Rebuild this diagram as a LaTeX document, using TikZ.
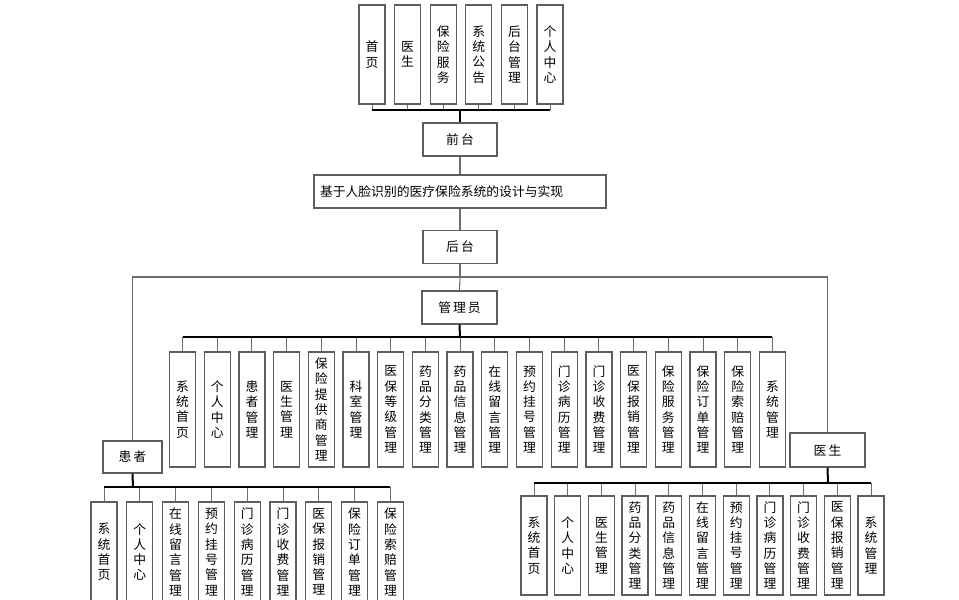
\documentclass[tikz,border=0pt]{standalone}
\usepackage{fontspec}
\newfontfamily\cjk{Noto Sans CJK SC}
\definecolor{boxgray}{HTML}{5E5E5E}
\definecolor{linegray}{HTML}{6E6E6E}
\tikzset{
  box/.style={draw=boxgray, line width=1.3pt, fill=white, inner sep=0pt, align=center,
    font=\cjk\fontsize{12.8}{15.3}\selectfont},
  vbox/.style={box, minimum width=26pt},
  hbox/.style={box, minimum width=74pt, minimum height=33pt},
  stub/.style={draw=linegray, line width=1pt},
  bus/.style={draw=black, line width=1.3pt},
  trunk/.style={draw=black, line width=2pt},
  link/.style={draw=linegray, line width=1.1pt}
}
\begin{document}
\begin{tikzpicture}[x=1pt,y=-1pt]
\useasboundingbox (0,0) rectangle (959,600);
\fill[white] (0,0) rectangle (959,600);

% top boxes
\foreach \t [count=\i] in {{首\\页},{医\\生},{保\\险\\服\\务},{系\\统\\公\\告},{后\\台\\管\\理},{个\\人\\中\\心}}{
  \node[vbox, minimum height=99pt] (t\i) at ({372+(\i-1)*35.6},54.5) {\t};
}
\coordinate (tb) at (460,110);
\foreach \i in {1,...,6}{ \draw[stub] (t\i.south) -- (t\i.south |- tb); }
\draw[bus] (t1.south |- tb) -- (t6.south |- tb);

\node[hbox] (qt) at (460,139.5) {前\hspace{2pt}台};
\draw[trunk] (tb) -- (qt.north);

\node[box, minimum width=292pt, minimum height=33pt, text width=280pt, align=left] (title) at (460,191.5) {基于人脸识别的医疗保险系统的设计与实现};
\draw[link] (qt.south) -- (title.north);

\node[hbox] (ht) at (460,247) {后\hspace{2pt}台};
\draw[link] (title.south) -- (ht.north);

\coordinate (hj) at (460,277);
\draw[link] (ht.south) -- (hj);

% admin
\node[hbox, minimum width=75pt] (gly) at (459.5,307.5) {管\hspace{2pt}理\hspace{2pt}员};
\node[hbox, minimum width=59pt, minimum height=32pt] (hz) at (132.5,457) {患\hspace{2pt}者};
\node[hbox, minimum width=75pt, minimum height=34pt] (ys) at (827.5,450) {医\hspace{2pt}生};

\draw[link] (hj) -- (gly.north);
\draw[link] (hz.north) |- (hj) -| (ys.north);

\foreach \t [count=\i] in {{系\\统\\首\\页},{个\\人\\中\\心},{患\\者\\管\\理},{医\\生\\管\\理},{保\\险\\提\\供\\商\\管\\理},{科\\室\\管\\理},{医\\保\\等\\级\\管\\理},{药\\品\\分\\类\\管\\理},{药\\品\\信\\息\\管\\理},{在\\线\\留\\言\\管\\理},{预\\约\\挂\\号\\管\\理},{门\\诊\\病\\历\\管\\理},{门\\诊\\收\\费\\管\\理},{医\\保\\报\\销\\管\\理},{保\\险\\服\\务\\管\\理},{保\\险\\订\\单\\管\\理},{保\\险\\索\\赔\\管\\理},{系\\统\\管\\理}}{
  \node[vbox, minimum height=115pt] (a\i) at ({182.5+(\i-1)*34.7},409.5) {\t};
}
\coordinate (ab) at (460,337);
\foreach \i in {1,...,18}{ \draw[stub] (a\i.north) -- (a\i.north |- ab); }
\draw[bus] (a1.north |- ab) -- (a18.north |- ab);
\draw[trunk] (gly.south) -- (ab);

% patient
\foreach \t [count=\i] in {{系\\统\\首\\页},{个\\人\\中\\心},{在\\线\\留\\言\\管\\理},{预\\约\\挂\\号\\管\\理},{门\\诊\\病\\历\\管\\理},{门\\诊\\收\\费\\管\\理},{医\\保\\报\\销\\管\\理},{保\\险\\订\\单\\管\\理},{保\\险\\索\\赔\\管\\理}}{
  \node[vbox, minimum height=100pt] (p\i) at ({104+(\i-1)*35.8},552) {\t};
}
\coordinate (pb) at (133,487);
\foreach \i in {1,...,9}{ \draw[stub] (p\i.north) -- (p\i.north |- pb); }
\draw[bus] (p1.north |- pb) -- (p9.north |- pb);
\draw[trunk] (hz.south) -- (pb);

% doctor
\foreach \t [count=\i] in {{系\\统\\首\\页},{个\\人\\中\\心},{医\\生\\管\\理},{药\\品\\分\\类\\管\\理},{药\\品\\信\\息\\管\\理},{在\\线\\留\\言\\管\\理},{预\\约\\挂\\号\\管\\理},{门\\诊\\病\\历\\管\\理},{门\\诊\\收\\费\\管\\理},{医\\保\\报\\销\\管\\理},{系\\统\\管\\理}}{
  \node[vbox, minimum height=99pt] (d\i) at ({534+(\i-1)*33.7},545.5) {\t};
}
\coordinate (db) at (828,483);
\foreach \i in {1,...,11}{ \draw[stub] (d\i.north) -- (d\i.north |- db); }
\draw[bus] (d1.north |- db) -- (d11.north |- db);
\draw[trunk] (ys.south) -- (db);
\end{tikzpicture}
\end{document}
